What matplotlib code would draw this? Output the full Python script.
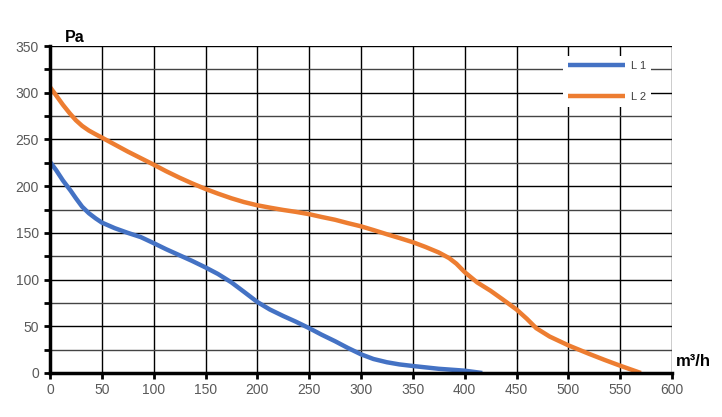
import numpy as np
import matplotlib.pyplot as plt
from matplotlib.ticker import MultipleLocator

plt.rcParams['font.family'] = ['Liberation Sans', 'DejaVu Sans']

# L 1 curve (blue)
l1_flow = [0, 6, 12.5, 20, 25, 31, 37.5, 44, 50, 62.5, 75, 87.5, 100, 112,
           125, 137, 150, 162, 175, 187, 200, 212, 225, 237, 250, 262, 275,
           287, 300, 312, 325, 337, 350, 375, 400, 417]
l1_pres = [226, 217, 206, 195, 187, 178, 171, 165.5, 161, 155, 150, 145.5, 139,
           132.5, 126, 120, 113, 106, 97, 87, 76, 68, 61, 55, 48, 41, 34,
           27, 20, 15, 11.5, 9.2, 7.5, 4.5, 2.5, 0]

# L 2 curve (orange)
l2_flow = [0, 6, 12.5, 19, 25, 31, 37.5, 44, 50, 62.5, 75, 87.5, 100, 112,
           125, 137, 150, 162, 175, 187, 200, 212, 225, 237, 250, 262, 275,
           287, 300, 312, 325, 337, 350, 362, 375, 385, 392, 400, 412, 425,
           437, 450, 460, 469, 482, 500, 520, 535, 550, 570]
l2_pres = [306, 297, 287, 278, 270.5, 264.5, 259.5, 255.5, 252, 244.5, 237, 230, 223,
           216, 209, 203, 197, 192, 187, 183, 179.5, 177, 174.5, 172.5, 170,
           167, 164, 160.5, 157, 153, 148.5, 144.5, 140, 135, 129, 123, 117,
           108, 97, 88, 78.5, 68, 58, 48, 39, 29.6, 20.5, 14, 7.8, 0]

fig = plt.figure(figsize=(7.22, 4.17), dpi=100)
ax = fig.add_axes([50 / 722, 1 - 373 / 417, 622 / 722, 327 / 417])

ax.plot(l1_flow, l1_pres, color='#4472C4', lw=3.2, label='L 1',
        solid_capstyle='butt', solid_joinstyle='round', zorder=3)
ax.plot(l2_flow, l2_pres, color='#ED7D31', lw=3.2, label='L 2',
        solid_capstyle='butt', solid_joinstyle='round', zorder=3)

ax.set_xlim(0, 600)
ax.set_ylim(0, 350)
ax.xaxis.set_major_locator(MultipleLocator(50))
ax.yaxis.set_major_locator(MultipleLocator(50))
ax.yaxis.set_minor_locator(MultipleLocator(25))

ax.grid(True, which='major', color='black', lw=1.0)
ax.grid(True, which='minor', axis='y', color='#444444', lw=1.0)
ax.set_axisbelow(True)

for s in ['top', 'right']:
    ax.spines[s].set_visible(False)
ax.spines['left'].set_linewidth(2.5)
ax.spines['bottom'].set_linewidth(2.5)
ax.spines['left'].set_zorder(4)
ax.spines['bottom'].set_zorder(4)

ax.tick_params(axis='both', which='both', direction='out', length=4, width=2,
               colors='black', labelcolor='#595959', labelsize=10)
ax.tick_params(axis='y', pad=4)
ax.tick_params(axis='x', pad=3)

fig.text(65 / 722, 1 - 37 / 417, 'Pa', fontsize=11.5, fontweight='bold',
         va='center', ha='left')
fig.text(676 / 722, 1 - 362 / 417, 'm³/h', fontsize=12, fontweight='bold',
         va='center', ha='left')

leg = ax.legend(loc='upper right', bbox_to_anchor=(0.9665, 0.969), fontsize=8,
                handlelength=5.2, handletextpad=0.5, labelspacing=1.85,
                frameon=True, fancybox=False, borderpad=0.45, borderaxespad=0)
leg.get_frame().set_facecolor('white')
leg.get_frame().set_edgecolor('none')
leg.get_frame().set_alpha(1)
for t in leg.get_texts():
    t.set_color('#404040')

fig.savefig('out.png', dpi=100)
